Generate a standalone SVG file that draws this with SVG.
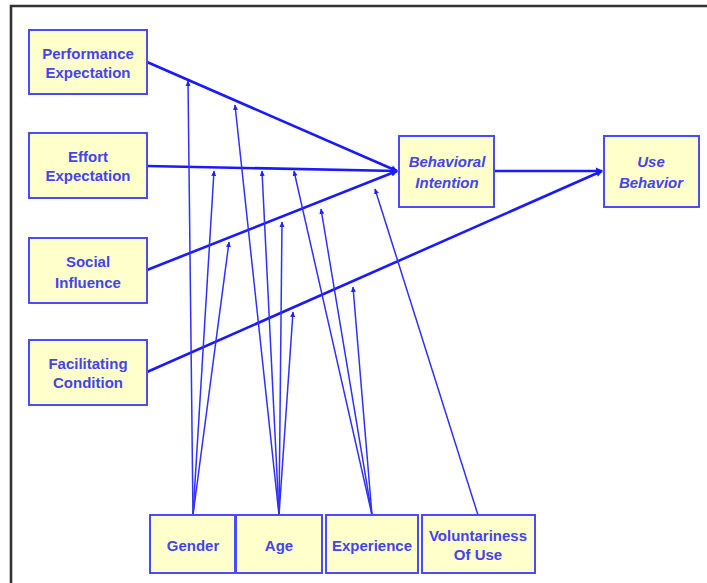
<svg xmlns="http://www.w3.org/2000/svg" width="707" height="583" viewBox="0 0 707 583">
<defs>
<style>
.box{fill:#ffffcc;stroke:#4a4aff;stroke-width:2}
.t{font-family:"Liberation Sans",Arial,sans-serif;font-weight:bold;font-size:15px;fill:#4444ee;text-anchor:middle}
.ti{font-style:italic}
.main{stroke:#1a1aff;stroke-width:2.6;fill:none}
.mod{stroke:#3030ff;stroke-width:1.5;fill:none}
</style>
<marker id="ah" markerWidth="8" markerHeight="8" refX="6" refY="4" orient="auto" markerUnits="userSpaceOnUse">
<path d="M0,0.5 L7,4 L0,7.5 Z" fill="#1a1aff"/>
</marker>
<marker id="sh" markerWidth="6" markerHeight="6" refX="5" refY="3" orient="auto" markerUnits="userSpaceOnUse">
<path d="M0,0.5 L5.5,3 L0,5.5 Z" fill="#2020ff"/>
</marker>
</defs>
<rect width="707" height="583" fill="#ffffff"/>
<path d="M11,583 V6 H707" fill="none" stroke="#333333" stroke-width="2.6"/>

<g id="connectors">
<line class="main" x1="147" y1="62" x2="397" y2="171" marker-end="url(#ah)"/>
<line class="main" x1="147" y1="166" x2="397" y2="171" marker-end="url(#ah)"/>
<line class="main" x1="147" y1="270" x2="397" y2="171" marker-end="url(#ah)"/>
<line class="main" x1="147" y1="372" x2="602" y2="171" marker-end="url(#ah)"/>
<line class="main" x1="494" y1="171" x2="602" y2="171" marker-end="url(#ah)"/>
<line class="mod" x1="193" y1="515" x2="188" y2="81" marker-end="url(#sh)"/>
<line class="mod" x1="193" y1="515" x2="214" y2="171" marker-end="url(#sh)"/>
<line class="mod" x1="193" y1="515" x2="229" y2="242" marker-end="url(#sh)"/>
<line class="mod" x1="279" y1="515" x2="235" y2="105" marker-end="url(#sh)"/>
<line class="mod" x1="279" y1="515" x2="262" y2="171" marker-end="url(#sh)"/>
<line class="mod" x1="279" y1="515" x2="282" y2="222" marker-end="url(#sh)"/>
<line class="mod" x1="279" y1="515" x2="293" y2="312" marker-end="url(#sh)"/>
<line class="mod" x1="372" y1="515" x2="294" y2="171" marker-end="url(#sh)"/>
<line class="mod" x1="372" y1="515" x2="321" y2="209" marker-end="url(#sh)"/>
<line class="mod" x1="372" y1="515" x2="353" y2="287" marker-end="url(#sh)"/>
<line class="mod" x1="478" y1="515" x2="375" y2="189" marker-end="url(#sh)"/>
</g>

<g id="performance-expectation">
<rect class="box" x="29" y="30" width="118" height="64"/>
<text class="t" x="88" y="59">Performance</text>
<text class="t" x="88" y="78">Expectation</text>
</g>
<g id="effort-expectation">
<rect class="box" x="29" y="133" width="118" height="65"/>
<text class="t" x="88" y="162">Effort</text>
<text class="t" x="88" y="181">Expectation</text>
</g>
<g id="social-influence">
<rect class="box" x="29" y="238" width="118" height="65"/>
<text class="t" x="88" y="267">Social</text>
<text class="t" x="88" y="288">Influence</text>
</g>
<g id="facilitating-condition">
<rect class="box" x="29" y="340" width="118" height="65"/>
<text class="t" x="88" y="369">Facilitating</text>
<text class="t" x="88" y="388">Condition</text>
</g>
<g id="behavioral-intention">
<rect class="box" x="399" y="136" width="95" height="71"/>
<text class="t ti" x="447" y="167">Behavioral</text>
<text class="t ti" x="447" y="188">Intention</text>
</g>
<g id="use-behavior">
<rect class="box" x="604" y="136" width="95" height="71"/>
<text class="t ti" x="651" y="167">Use</text>
<text class="t ti" x="651" y="188">Behavior</text>
</g>
<g id="gender">
<rect class="box" x="150" y="515" width="85" height="58"/>
<text class="t" x="193" y="551">Gender</text>
</g>
<g id="age">
<rect class="box" x="236" y="515" width="86" height="58"/>
<text class="t" x="279" y="551">Age</text>
</g>
<g id="experience">
<rect class="box" x="326" y="515" width="92" height="58"/>
<text class="t" x="372" y="551">Experience</text>
</g>
<g id="voluntariness-of-use">
<rect class="box" x="422" y="515" width="113" height="58"/>
<text class="t" x="478" y="541">Voluntariness</text>
<text class="t" x="478" y="560">Of Use</text>
</g>
</svg>
